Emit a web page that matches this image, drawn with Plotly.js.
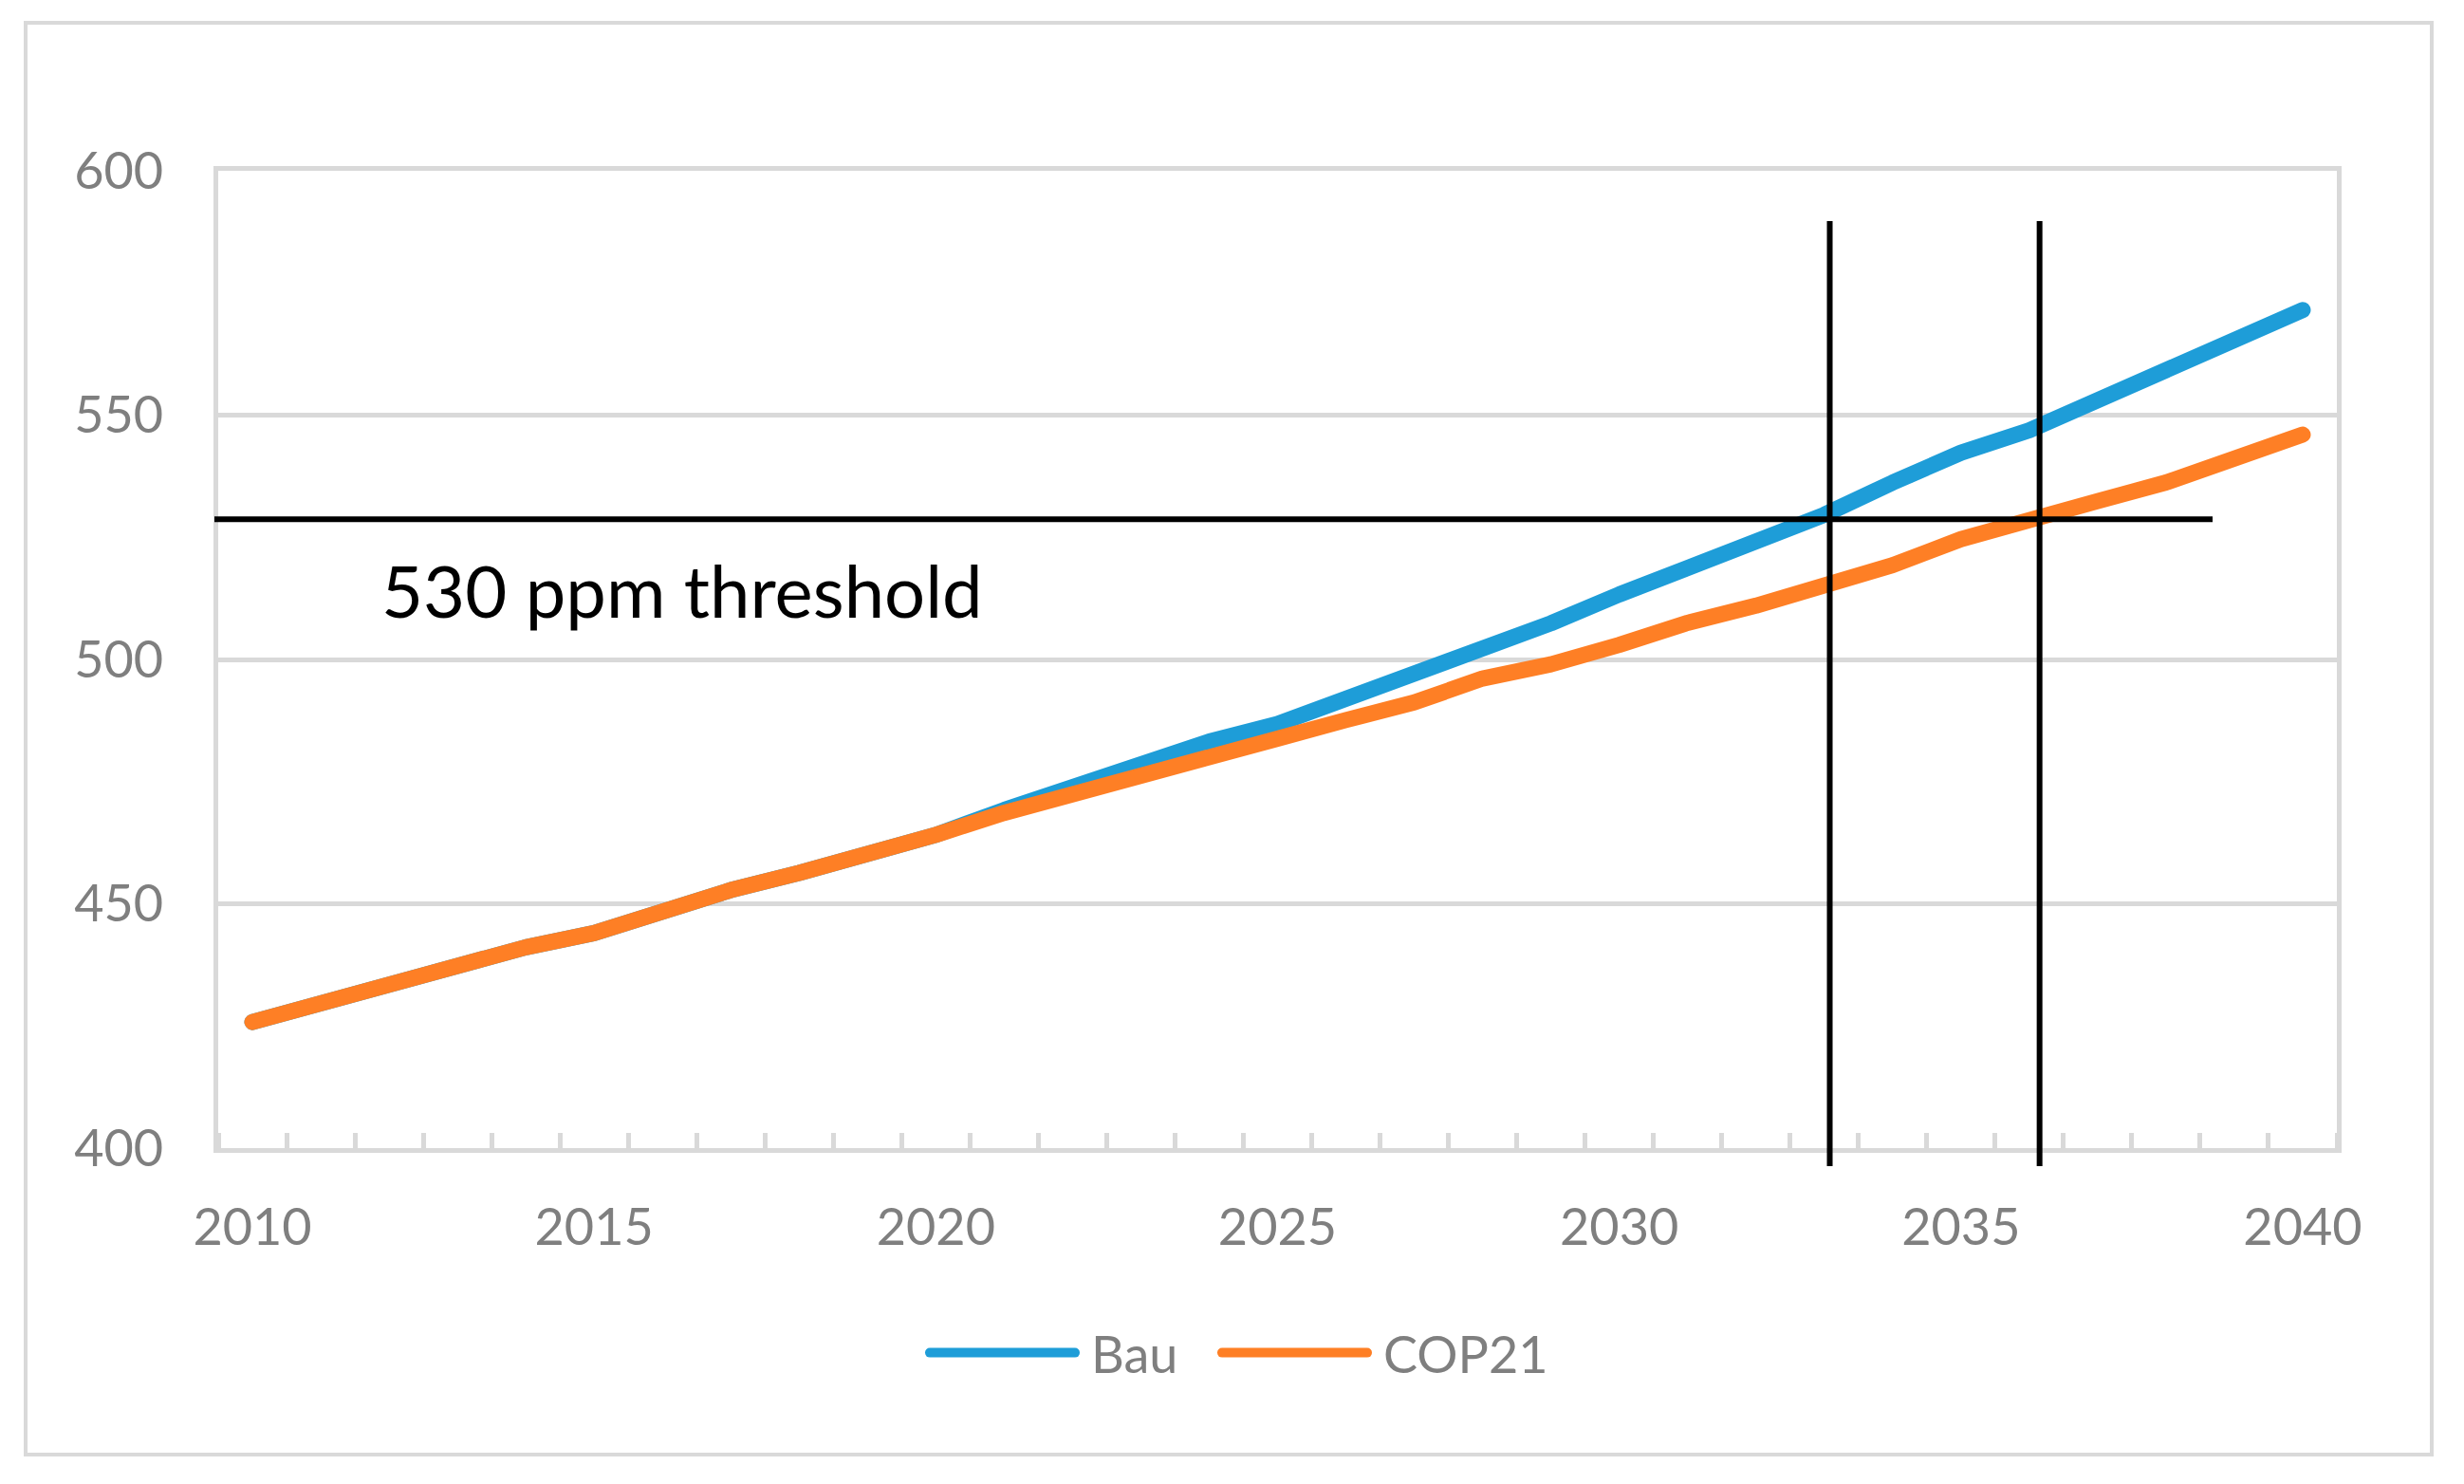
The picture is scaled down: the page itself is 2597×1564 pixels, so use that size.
<!DOCTYPE html>
<html>
<head>
<meta charset="utf-8">
<script src="https://cdn.plot.ly/plotly-3.0.1.min.js"></script>
<style>
html, body { margin: 0; padding: 0; background: #ffffff; }
#chart { width: 2597px; height: 1564px; }
/* round ends like the office chart */
.scatterlayer path.js-line, .legendlines path { stroke-linecap: round; stroke-linejoin: round; }
/* a bit more room between legend line and its name, and don't cut the last name */
.legend .legendtext { transform: translate(12px, 0px); }
.legend .scrollbox { clip-path: none !important; }
</style>
</head>
<body>
<div id="chart"></div>
<script>
// CO2 concentration (ppm)
var years = [2010, 2011, 2012, 2013, 2014, 2015, 2016, 2017, 2018, 2019, 2020,
             2021, 2022, 2023, 2024, 2025, 2026, 2027, 2028, 2029, 2030,
             2031, 2032, 2033, 2034, 2035, 2036, 2037, 2038, 2039, 2040];

var bau = [425.8, 429.6, 432.9, 436.6, 441.1, 444.0, 448.6, 452.8, 456.3, 460.1, 464.1,
           469.2, 473.8, 478.1, 483.2, 486.8, 492.0, 496.6, 502.0, 507.4, 513.3,
           518.8, 524.9, 529.6, 536.2, 542.3, 546.9, 553.1, 559.4, 564.9, 571.5];

var cop21 = [425.8, 429.6, 432.9, 436.6, 441.1, 444.0, 448.6, 452.8, 456.3, 460.1, 464.1,
             468.6, 472.2, 476.5, 479.9, 483.8, 487.6, 491.2, 496.1, 499.0, 503.0,
             507.5, 511.0, 515.2, 519.3, 524.6, 528.8, 532.4, 536.2, 541.1, 546.0];

var yTicks = [400, 450, 500, 550, 600];
var xTicks = [2010, 2015, 2020, 2025, 2030, 2035, 2040];

var thresholdLevel = 528.7;          // where the black horizontal line sits
var crossYears = [2033.08, 2036.15]; // the two black vertical markers
var thresholdLabel = "530 ppm threshold";

// plot area in pixels, used to turn pixel spots into paper coords
var W = 2597, H = 1564;
var L = 230, T = 180, PW = 2233, PH = 1030;
function px(x) { return (x - L) / PW; }
function py(y) { return (T + PH - y) / PH; }

var GRID = "#d9d9d9";
var TXT = "#7f7f7f";
var FONT = "Lato, 'Open Sans', sans-serif";

var traces = [
  {
    x: years, y: bau, name: "Bau", type: "scatter", mode: "lines",
    line: {color: "#1e9dd8", width: 17}
  },
  {
    x: years, y: cop21, name: "COP21", type: "scatter", mode: "lines",
    line: {color: "#fe7f25", width: 17}
  }
];

var shapes = [];
// outer chart border
shapes.push({
  type: "rect", xref: "paper", yref: "paper",
  x0: px(27), x1: px(2563), y0: py(1533), y1: py(24),
  line: {color: GRID, width: 4}, fillcolor: "rgba(0,0,0,0)", layer: "below"
});
// threshold line
shapes.push({
  type: "line", xref: "paper", yref: "y",
  x0: px(226), x1: px(2332), y0: thresholdLevel, y1: thresholdLevel,
  line: {color: "#000000", width: 6}
});
// crossing markers
for (var i = 0; i < crossYears.length; i++) {
  shapes.push({
    type: "line", xref: "x", yref: "paper",
    x0: crossYears[i], x1: crossYears[i], y0: py(1229), y1: py(233),
    line: {color: "#000000", width: 6}
  });
}

var layout = {
  width: W, height: H,
  margin: {l: L, r: W - L - PW, t: T, b: H - T - PH, pad: 0},
  paper_bgcolor: "#ffffff",
  plot_bgcolor: "#ffffff",
  showlegend: true,
  legend: {
    orientation: "h",
    x: px(1283), xanchor: "center",
    y: py(1426), yanchor: "middle",
    font: {family: FONT, size: 54, color: TXT},
    bgcolor: "rgba(0,0,0,0)",
    itemwidth: 153,
    entrywidth: 140
  },
  xaxis: {
    range: [2009.5, 2040.5],
    tickmode: "array", tickvals: xTicks,
    ticks: "", showgrid: false, zeroline: false,
    showline: true, linecolor: GRID, linewidth: 5, mirror: true,
    tickfont: {family: FONT, size: 54, color: TXT},
    ticklabelstandoff: 32,
    minor: {
      tick0: 2010.5, dtick: 1, ticks: "inside", ticklen: 16,
      tickwidth: 5, tickcolor: GRID, showgrid: false
    }
  },
  yaxis: {
    range: [400, 600],
    tickmode: "array", tickvals: yTicks,
    ticks: "", showgrid: true, gridcolor: GRID, gridwidth: 5, zeroline: false,
    showline: true, linecolor: GRID, linewidth: 5, mirror: true,
    tickfont: {family: FONT, size: 54, color: TXT},
    ticklabelstandoff: 42
  },
  annotations: [{
    text: thresholdLabel, showarrow: false,
    xref: "paper", yref: "paper",
    x: px(400), xanchor: "left",
    y: py(621), yanchor: "middle",
    font: {family: FONT, size: 76, color: "#000000"}
  }],
  shapes: shapes
};

Plotly.newPlot("chart", traces, layout, {staticPlot: true});
</script>
</body>
</html>
